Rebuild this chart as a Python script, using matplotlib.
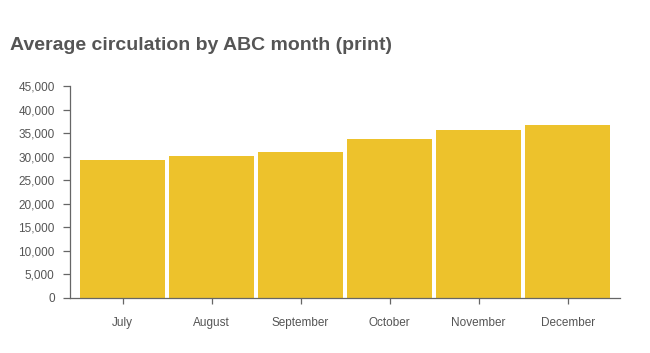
import matplotlib.pyplot as plt
from matplotlib.ticker import FuncFormatter

# Chart data
months = ['July', 'August', 'September', 'October', 'November', 'December']
circulation = [29200, 30200, 30900, 33750, 35700, 36800]
y_ticks = list(range(0, 45001, 5000))

BAR_COLOR = '#EDC22C'
TEXT_COLOR = '#555555'
AXIS_COLOR = '#666666'

plt.rcParams['font.family'] = ['Liberation Sans', 'DejaVu Sans']

fig = plt.figure(figsize=(6.5, 3.53), dpi=100)
ax = fig.add_axes([0.1077, 0.156, 0.8463, 0.6])

x = range(len(months))
ax.bar(x, circulation, width=0.955, color=BAR_COLOR, zorder=2)

ax.set_xlim(-0.59, len(months) - 1 + 0.59)
ax.set_ylim(0, 45000)
ax.set_xticks(list(x))
ax.set_xticklabels(months)
ax.set_yticks(y_ticks)
ax.yaxis.set_major_formatter(FuncFormatter(lambda v, p: f'{int(v):,}'))

for side in ['top', 'right']:
    ax.spines[side].set_visible(False)
for side in ['left', 'bottom']:
    ax.spines[side].set_color(AXIS_COLOR)
    ax.spines[side].set_linewidth(0.9)

ax.tick_params(axis='y', length=5, width=0.9, color=AXIS_COLOR,
               labelcolor=TEXT_COLOR, labelsize=8.5, pad=6)
ax.tick_params(axis='x', length=4, width=0.9, color=AXIS_COLOR,
               labelcolor=TEXT_COLOR, labelsize=8.5, pad=10)

fig.text(0.015, 0.87, 'Average circulation by ABC month (print)',
         fontsize=14, fontweight='bold', color=TEXT_COLOR, ha='left', va='center')

fig.savefig('out.png', dpi=100)
